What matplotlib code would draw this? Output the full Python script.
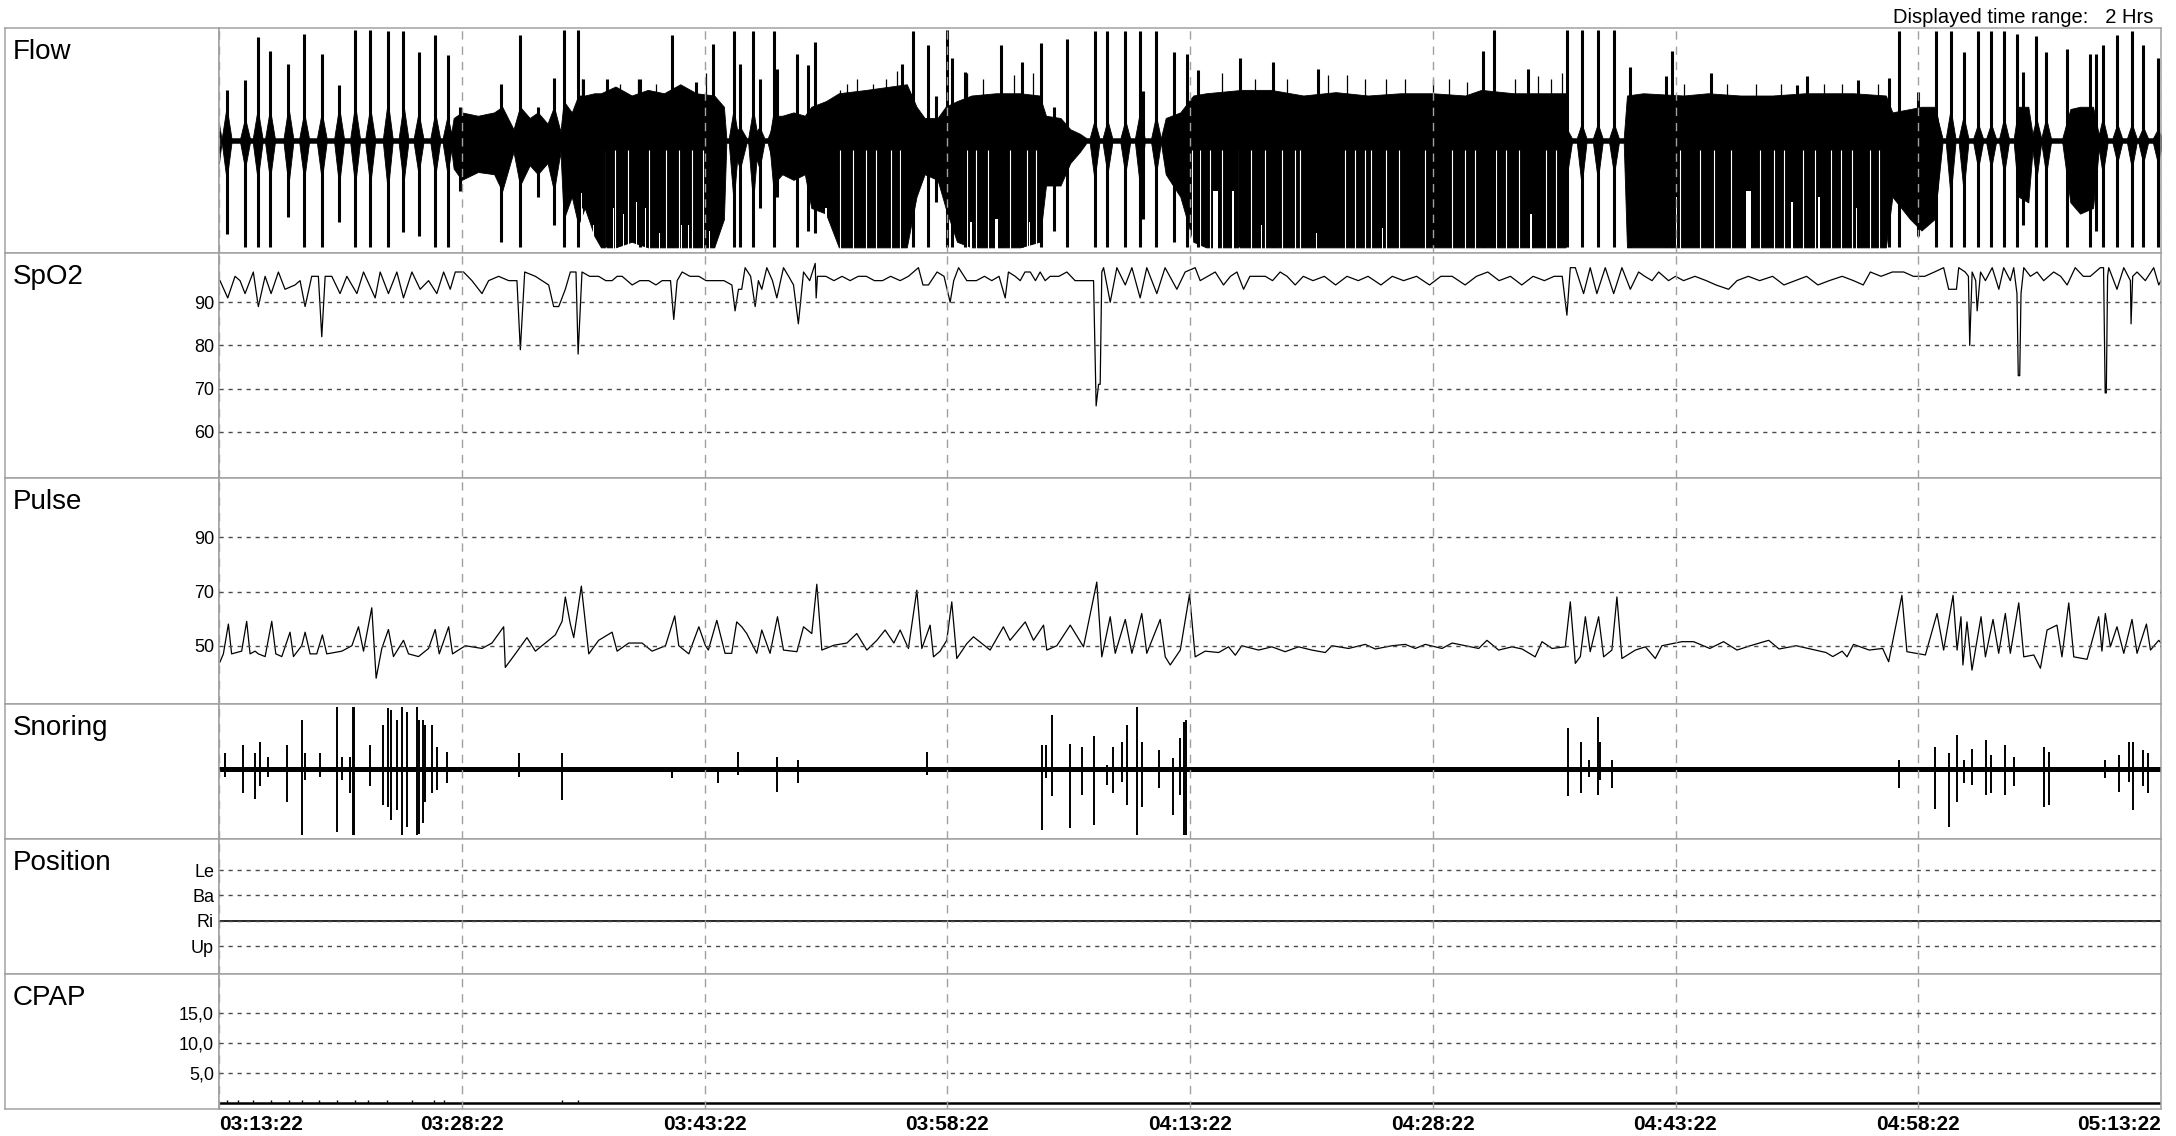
import numpy as np
import matplotlib.pyplot as plt

plt.rcParams['font.family'] = ['Liberation Sans', 'DejaVu Sans']

# time axis: minutes after 03:13:22, 2 hours shown
time_ticks = [0, 15, 30, 45, 60, 75, 90, 105, 120]
time_labels = ["03:13:22", "03:28:22", "03:43:22", "03:58:22", "04:13:22",
               "04:28:22", "04:43:22", "04:58:22", "05:13:22"]

# Flow: envelope of continuous breathing (t, upper, lower), normalised -1..1
flow_envelope = [
    (0.0, 0.15, -0.20), (0.15, 0.02, -0.02), (14.3, 0.02, -0.02), (14.5, 0.20, -0.25),
    (15.0, 0.25, -0.35), (16.0, 0.22, -0.28), (17.0, 0.25, -0.30), (17.5, 0.30, -0.45),
    (18.2, 0.10, -0.10), (18.6, 0.30, -0.40), (19.2, 0.20, -0.22), (19.7, 0.25, -0.30),
    (20.3, 0.15, -0.20), (20.7, 0.30, -0.45), (21.1, 0.08, -0.10), (21.3, 0.35, -0.70),
    (21.8, 0.25, -0.50), (22.2, 0.40, -0.75), (22.6, 0.40, -0.60), (23.2, 0.42, -0.85),
    (23.6, 0.42, -0.95), (24.5, 0.48, -0.95), (25.5, 0.40, -0.90), (26.5, 0.45, -0.95),
    (27.5, 0.42, -0.95), (28.5, 0.50, -0.95), (29.5, 0.42, -0.95), (30.6, 0.40, -0.95),
    (31.2, 0.30, -0.70), (31.35, 0.02, -0.02), (31.6, 0.02, -0.02), (32.2, 0.12, -0.25),
    (32.6, 0.02, -0.02), (32.9, 0.02, -0.02), (33.4, 0.12, -0.25), (33.7, 0.02, -0.02),
    (33.9, 0.02, -0.02), (34.5, 0.22, -0.35), (34.8, 0.22, -0.30), (35.5, 0.25, -0.35),
    (36.2, 0.22, -0.30), (36.6, 0.30, -0.60), (37.5, 0.35, -0.65), (38.3, 0.42, -0.95),
    (40.0, 0.45, -0.95), (41.5, 0.48, -0.95), (42.5, 0.50, -0.95), (43.1, 0.30, -0.50),
    (43.6, 0.20, -0.30), (44.4, 0.20, -0.35), (44.9, 0.30, -0.60), (45.6, 0.35, -0.90),
    (46.5, 0.40, -0.95), (48.0, 0.42, -0.95), (49.5, 0.42, -0.95), (50.7, 0.40, -0.90),
    (51.1, 0.22, -0.40), (52.0, 0.20, -0.40), (52.6, 0.10, -0.20), (53.2, 0.06, -0.10),
    (53.6, 0.02, -0.02), (58.2, 0.02, -0.02), (58.5, 0.20, -0.30), (59.4, 0.25, -0.50),
    (60.2, 0.40, -0.90), (61.0, 0.42, -0.95), (63.2, 0.45, -0.95), (65.0, 0.45, -0.95),
    (67.0, 0.40, -0.95), (69.0, 0.43, -0.95), (71.0, 0.40, -0.95), (73.0, 0.42, -0.95),
    (75.0, 0.42, -0.95), (77.0, 0.40, -0.95), (78.0, 0.45, -0.95), (80.0, 0.42, -0.95),
    (83.2, 0.42, -0.95), (83.35, 0.02, -0.02), (86.8, 0.02, -0.02), (87.0, 0.40, -0.95),
    (88.0, 0.42, -0.95), (90.5, 0.40, -0.95), (92.0, 0.42, -0.95), (94.0, 0.40, -0.95),
    (96.0, 0.40, -0.95), (98.0, 0.42, -0.95), (101.0, 0.42, -0.95), (103.0, 0.40, -0.95),
    (103.4, 0.25, -0.50), (104.5, 0.28, -0.70), (105.2, 0.30, -0.80), (106.0, 0.30, -0.70),
    (106.5, 0.02, -0.02), (110.9, 0.02, -0.02), (111.2, 0.30, -0.50), (111.8, 0.30, -0.55),
    (112.1, 0.02, -0.02), (113.9, 0.02, -0.02), (114.4, 0.28, -0.55), (115.0, 0.30, -0.65),
    (115.8, 0.30, -0.60), (116.2, 0.02, -0.02), (120.0, 0.02, -0.02),
]

# Flow: single large breaths (t, top, bottom, body top, body bottom)
flow_bursts = [
    (0.47, 0.45, -0.83, 0.30, -0.35), (1.61, 0.54, -0.95, 0.20, -0.25),
    (2.39, 0.92, -0.95, 0.28, -0.35), (3.15, 0.80, -0.95, 0.28, -0.35),
    (4.29, 0.68, -0.68, 0.30, -0.40), (5.26, 0.95, -0.95, 0.25, -0.35),
    (6.35, 0.77, -0.95, 0.25, -0.35), (7.42, 0.49, -0.72, 0.30, -0.40),
    (8.41, 0.98, -0.95, 0.32, -0.40), (9.34, 0.98, -0.95, 0.30, -0.40),
    (10.43, 0.97, -0.95, 0.35, -0.45), (11.40, 0.97, -0.81, 0.32, -0.38),
    (12.33, 0.79, -0.85, 0.25, -0.30), (13.36, 0.94, -0.95, 0.25, -0.32),
    (14.12, 0.76, -0.95, 0.22, -0.30), (14.9, 0.30, -0.45, 0, 0),
    (17.4, 0.50, -0.90, 0, 0), (18.6, 0.94, -0.95, 0, 0), (19.7, 0.30, -0.50, 0, 0),
    (20.7, 0.56, -0.75, 0, 0), (21.3, 0.98, -0.95, 0, 0), (22.2, 0.98, -0.95, 0, 0),
    (22.5, 0.55, -0.60, 0, 0), (24.0, 0.55, -0.95, 0, 0), (26.0, 0.55, -0.95, 0, 0),
    (28.0, 0.94, -0.95, 0, 0), (29.5, 0.52, -0.95, 0, 0), (30.55, 0.86, -0.95, 0, 0),
    (31.8, 0.97, -0.95, 0.28, -0.55), (32.2, 0.68, -0.95, 0, 0),
    (33.0, 0.97, -0.95, 0.28, -0.55), (33.4, 0.55, -0.60, 0, 0),
    (34.3, 0.97, -0.95, 0.28, -0.50), (34.5, 0.64, -0.50, 0, 0),
    (35.7, 0.77, -0.95, 0, 0), (36.4, 0.67, -0.80, 0, 0), (36.8, 0.88, -0.82, 0, 0),
    (42.2, 0.68, -0.95, 0, 0), (42.9, 0.97, -0.95, 0, 0), (43.8, 0.85, -0.95, 0, 0),
    (44.3, 0.40, -0.55, 0, 0), (45.0, 0.98, -0.95, 0, 0), (45.3, 0.73, -0.95, 0, 0),
    (46.1, 0.61, -0.95, 0, 0), (48.3, 0.85, -0.95, 0, 0), (49.6, 0.70, -0.95, 0, 0),
    (50.8, 0.87, -0.95, 0, 0), (51.6, 0.30, -0.80, 0, 0),
    (52.4, 0.90, -0.95, 0.15, -0.30), (54.1, 0.97, -0.95, 0.18, -0.35),
    (54.9, 0.97, -0.95, 0.18, -0.30), (56.0, 0.97, -0.95, 0.18, -0.30),
    (56.9, 0.97, -0.95, 0.25, -0.40), (57.1, 0.44, -0.70, 0, 0),
    (57.9, 0.97, -0.95, 0.22, -0.30), (59.0, 0.79, -0.90, 0, 0),
    (59.8, 0.77, -0.95, 0, 0), (60.5, 0.63, -0.95, 0, 0), (63.1, 0.73, -0.95, 0, 0),
    (65.1, 0.70, -0.95, 0, 0), (67.9, 0.64, -0.95, 0, 0), (78.1, 0.80, -0.95, 0, 0),
    (78.8, 0.98, -0.95, 0, 0), (80.9, 0.64, -0.95, 0, 0),
    (83.3, 0.98, -0.95, 0.10, -0.30), (84.2, 0.98, -0.95, 0.15, -0.40),
    (85.2, 0.98, -0.95, 0.15, -0.35), (86.2, 0.98, -0.95, 0.15, -0.30),
    (87.2, 0.65, -0.95, 0, 0), (89.4, 0.57, -0.95, 0, 0), (89.8, 0.80, -0.95, 0, 0),
    (92.2, 0.60, -0.95, 0, 0), (97.5, 0.49, -0.95, 0, 0), (98.1, 0.57, -0.95, 0, 0),
    (101.3, 0.54, -0.95, 0, 0), (103.2, 0.56, -0.95, 0, 0), (103.8, 0.97, -0.95, 0, 0),
    (105.0, 0.43, -0.85, 0, 0), (106.1, 0.97, -0.95, 0.28, -0.60),
    (107.0, 0.97, -0.95, 0.28, -0.50), (107.8, 0.79, -0.95, 0.22, -0.45),
    (108.7, 0.97, -0.95, 0.15, -0.25), (109.5, 0.97, -0.95, 0.15, -0.25),
    (110.3, 0.97, -0.95, 0.20, -0.30), (111.1, 0.95, -0.95, 0, 0),
    (111.5, 0.61, -0.75, 0, 0), (112.3, 0.93, -0.95, 0.20, -0.35),
    (112.9, 0.79, -0.95, 0.20, -0.30), (114.2, 0.81, -0.95, 0, 0),
    (115.6, 0.77, -0.95, 0, 0), (116.0, 0.77, -0.80, 0, 0),
    (116.4, 0.85, -0.95, 0.20, -0.30), (117.3, 0.94, -0.95, 0.15, -0.20),
    (118.2, 0.97, -0.95, 0.15, -0.25), (118.9, 0.85, -0.95, 0.12, -0.20),
    (119.8, 0.73, -0.95, 0.10, -0.20),
]

# Flow: thin inspiratory peaks above the dense stretches (t, top)
flow_needles = [
    (22.4, 0.55), (24.8, 0.50), (25.9, 0.55), (27.0, 0.50), (30.1, 0.60), (38.4, 0.45),
    (38.8, 0.50), (39.4, 0.55), (40.4, 0.50), (41.2, 0.55), (41.9, 0.62), (46.2, 0.60),
    (47.2, 0.55), (49.1, 0.58), (50.3, 0.60), (62.0, 0.60), (64.0, 0.55), (66.0, 0.55),
    (68.5, 0.58), (69.7, 0.58), (70.8, 0.55), (72.1, 0.55), (73.3, 0.55), (75.0, 0.55),
    (76.0, 0.55), (77.1, 0.52), (80.1, 0.55), (81.5, 0.57), (82.3, 0.55), (83.0, 0.60),
    (90.5, 0.50), (93.2, 0.50), (95.0, 0.50), (96.5, 0.50), (99.2, 0.50), (100.3, 0.50),
    (102.5, 0.50),
]

# Flow: places where expiration stays shallow (t0, t1, lowest value reached)
flow_gaps = [
    (22.38, 22.47, -0.47), (23.08, 23.17, -0.75), (24.36, 24.43, -0.60), (24.96, 25.03, -0.65),
    (25.76, 25.83, -0.55), (26.31, 26.38, -0.60), (27.16, 27.23, -0.82), (28.56, 28.63, -0.75),
    (28.96, 29.03, -0.75), (30.26, 30.33, -0.80), (36.75, 36.95, -0.62), (37.45, 37.55, -0.60),
    (46.38, 46.52, -0.72), (47.98, 48.12, -0.70), (50.06, 50.13, -0.72), (61.45, 61.7, -0.45),
    (62.58, 62.72, -0.45), (64.36, 64.43, -0.75), (67.76, 67.83, -0.82), (71.86, 71.93, -0.78),
    (81.03, 81.12, -0.65), (90.0, 90.12, -0.50), (94.35, 94.65, -0.45), (97.15, 97.25, -0.55),
    (98.8, 98.9, -0.50), (101.14, 101.22, -0.60),
]

# Flow: thin pale streaks between expirations in the dense stretches (t)
flow_streaks = [
    23.9, 24.5, 25.3, 26.6, 27.6, 28.4, 29.2, 29.9, 38.4, 39.2, 40.0, 40.6, 41.5, 42.1,
    46.2, 46.8, 47.5, 48.9, 49.9, 50.5, 60.1, 60.6, 61.25, 62.0, 63.0, 63.8, 64.65, 65.7,
    66.5, 66.8, 69.6, 70.2, 70.8, 71.2, 72.1, 72.9, 74.5, 76.2, 77.0, 77.6, 78.9, 79.5,
    80.3, 82.0, 82.6, 90.3, 91.5, 92.4, 93.4, 95.2, 96.1, 96.7, 97.9, 98.6, 99.6, 100.2,
    100.9, 102.0, 102.6,
]

# SpO2 (%) : (t, value)
spo2_trace = [
    (0.06, 95), (0.54, 91), (0.99, 96), (1.30, 95), (1.61, 92), (2.12, 97), (2.43, 89),
    (2.85, 96), (3.22, 92), (3.67, 97), (4.08, 93), (4.70, 94), (5.01, 95), (5.32, 89),
    (5.73, 96), (6.14, 96), (6.35, 82), (6.56, 96), (6.97, 96), (7.48, 92), (7.90, 96),
    (8.52, 92), (8.93, 97), (9.65, 91), (9.96, 97), (10.47, 92), (10.99, 97), (11.40, 91),
    (11.92, 97), (12.43, 93), (12.95, 95), (13.46, 92), (13.88, 97), (14.29, 93), (14.60, 97),
    (15.11, 97), (15.63, 95), (16.25, 92), (16.66, 95), (17.28, 96), (17.90, 95), (18.41, 95),
    (18.62, 79), (18.89, 97), (19.55, 96), (20.37, 94), (20.68, 89), (20.99, 89), (21.40, 93),
    (21.71, 97), (22.06, 97), (22.19, 78), (22.43, 97), (22.9, 96), (23.46, 96), (23.9, 95),
    (24.29, 95), (24.6, 96), (24.91, 96), (25.53, 94), (26.0, 95), (26.56, 95), (27.0, 94),
    (27.38, 95), (27.90, 95), (28.10, 86), (28.31, 95), (28.62, 97), (29.1, 96), (29.65, 96),
    (30.1, 95), (30.47, 95), (30.76, 95), (31.20, 95), (31.69, 94), (31.89, 88), (32.10, 93),
    (32.30, 93), (32.51, 98), (32.85, 96), (33.13, 89), (33.33, 95), (33.54, 93), (33.85, 98),
    (34.20, 95), (34.47, 91), (34.88, 98), (35.20, 96), (35.50, 94), (35.80, 85), (36.12, 97),
    (36.50, 95), (36.84, 99), (36.90, 91), (36.98, 96), (37.5, 96), (38.0, 95), (38.5, 96),
    (39.0, 95), (39.5, 96), (40.0, 96), (40.5, 95), (41.0, 95), (41.5, 96), (42.09, 95),
    (42.6, 96), (43.22, 98), (43.5, 94), (43.84, 94), (44.37, 97), (44.8, 96), (45.18, 90),
    (45.40, 95), (45.70, 98), (46.21, 95), (46.8, 95), (47.3, 96), (47.75, 95), (48.2, 96),
    (48.58, 91), (48.78, 97), (49.2, 96), (49.51, 95), (49.8, 97), (50.13, 97), (50.45, 95),
    (50.74, 97), (51.05, 95), (51.36, 96), (51.9, 96), (52.39, 97), (52.9, 95), (53.42, 95),
    (54.04, 95), (54.20, 66), (54.35, 71), (54.45, 71), (54.55, 97), (54.66, 98), (55.07, 90),
    (55.48, 98), (56.0, 94), (56.41, 98), (56.92, 91), (57.33, 98), (57.95, 92), (58.46, 98),
    (59.19, 93), (59.7, 97), (60.32, 98), (60.63, 95), (61.10, 96), (61.56, 97), (62.07, 94),
    (62.50, 96), (62.90, 97), (63.31, 93), (63.7, 96), (64.65, 96), (65.1, 95), (65.57, 97),
    (66.0, 96), (66.5, 94), (67.0, 96), (67.6, 95), (68.3, 96), (69.0, 94), (69.7, 96),
    (70.4, 95), (71.0, 96), (71.8, 94), (72.5, 96), (73.2, 95), (74.0, 96), (74.8, 94),
    (75.5, 96), (76.2, 96), (77.0, 94), (77.7, 96), (78.4, 97), (79.1, 95), (79.8, 96),
    (80.5, 94), (81.2, 96), (81.9, 95), (82.5, 96), (83.0, 96), (83.29, 87), (83.50, 98),
    (83.81, 98), (84.32, 92), (84.73, 98), (85.14, 92), (85.66, 98), (86.18, 92), (86.69, 98),
    (87.21, 93), (87.72, 97), (88.1, 96), (88.55, 95), (88.96, 97), (89.57, 95), (90.0, 96),
    (90.5, 95), (91.2, 96), (91.9, 95), (92.5, 94), (93.28, 93), (93.8, 95), (94.5, 96),
    (95.2, 95), (96.0, 96), (96.7, 94), (97.4, 95), (98.1, 96), (98.8, 94), (99.5, 95),
    (100.3, 96), (101.0, 95), (101.6, 94), (102.04, 97), (102.7, 96), (103.4, 97), (104.1, 97),
    (104.7, 96), (105.4, 96), (106.0, 97), (106.57, 98), (106.88, 93), (107.36, 93), (107.50, 98),
    (107.90, 97), (108.10, 96), (108.18, 80), (108.33, 97), (108.55, 95), (108.64, 88),
    (108.85, 97), (109.15, 95), (109.57, 98), (109.98, 93), (110.28, 98), (110.69, 95),
    (110.90, 98), (111.10, 92), (111.18, 73), (111.27, 73), (111.35, 92), (111.52, 98),
    (111.93, 96), (112.34, 97), (112.75, 95), (113.37, 97), (113.8, 96), (114.20, 94),
    (114.70, 98), (115.2, 96), (115.63, 96), (116.25, 98), (116.45, 98), (116.55, 69),
    (116.62, 69), (116.70, 96), (116.77, 98), (117.28, 93), (117.70, 98), (118.11, 95),
    (118.15, 85), (118.25, 96), (118.52, 97), (119.03, 95), (119.55, 98), (119.86, 94),
    (120.0, 95),
]

# Pulse (bpm) : (t, value)
pulse_trace = [
    (0.06, 44), (0.27, 47), (0.58, 58), (0.78, 47), (1.40, 48), (1.71, 59), (1.92, 47),
    (2.23, 48), (2.43, 47), (2.85, 46), (3.26, 59), (3.51, 47), (3.88, 46), (4.39, 55),
    (4.60, 46), (5.11, 50), (5.32, 55), (5.63, 47), (6.04, 47), (6.39, 54), (6.66, 47),
    (7.59, 48), (8.21, 50), (8.62, 57), (8.93, 48), (9.44, 64), (9.71, 38), (10.06, 49),
    (10.47, 56), (10.78, 46), (11.40, 52), (11.71, 47), (12.33, 46), (12.95, 49), (13.36, 56),
    (13.61, 47), (14.19, 57), (14.43, 47), (15.22, 50), (16.25, 49), (16.87, 51), (17.59, 57),
    (17.69, 42), (18.31, 47), (19.03, 53), (19.55, 48), (20.16, 51), (20.78, 54), (21.2, 59),
    (21.4, 68), (21.71, 58), (21.92, 53), (22.39, 72), (22.85, 47), (23.46, 52), (24.29, 55),
    (24.6, 48), (25.32, 51), (26.14, 51), (26.76, 48), (27.59, 50), (28.16, 61), (28.41, 50),
    (29.03, 47), (29.65, 57), (30.06, 50), (30.24, 48.4), (30.76, 59.4), (31.27, 47.2),
    (31.68, 47.2), (31.99, 58.8), (32.30, 57), (32.61, 54.5), (33.23, 47.2), (33.54, 55.8),
    (34.05, 47.2), (34.51, 60.7), (34.88, 48.4), (35.71, 47.8), (36.12, 57), (36.63, 54.5),
    (36.94, 72.7), (37.25, 48.4), (38.0, 50.2), (38.8, 51), (39.41, 54.5), (40.03, 48.4),
    (40.65, 52), (41.16, 55.8), (41.7, 51), (42.09, 55.8), (42.6, 49), (43.12, 70.5),
    (43.43, 49), (43.94, 57.6), (44.15, 45.9), (44.56, 48), (44.97, 52), (45.28, 66.2),
    (45.59, 45.3), (46.21, 50.8), (46.62, 53.3), (47.65, 48.4), (48.47, 57), (48.88, 52),
    (49.82, 58.8), (50.33, 52), (50.95, 57.6), (51.15, 48.4), (51.77, 50), (52.6, 57.6),
    (53.42, 49.6), (54.24, 73.5), (54.55, 45.9), (55.07, 60.7), (55.38, 47.2), (56.0, 59.7),
    (56.41, 47.2), (57.02, 61.9), (57.33, 47.2), (58.16, 59.7), (58.47, 45.9), (58.78, 42.9),
    (59.4, 48.4), (59.97, 69), (60.32, 45.9), (60.94, 48), (61.77, 47.5), (62.38, 49.6),
    (62.8, 46.5), (63.2, 50), (64.24, 48.4), (65.06, 49.6), (65.88, 47.8), (66.71, 49.6),
    (67.53, 48.4), (68.36, 47.5), (68.77, 50), (69.8, 49), (70.83, 50.5), (71.45, 48.8),
    (72.48, 50), (73.3, 50.5), (73.92, 49), (74.54, 50.5), (75.57, 49), (76.2, 51),
    (77.02, 50), (77.84, 49), (78.35, 52), (79.07, 48.4), (79.9, 49.6), (80.52, 48.8),
    (81.33, 45.9), (81.75, 51.5), (82.37, 49), (83.19, 49.6), (83.5, 66.2), (83.81, 43.5),
    (84.12, 46), (84.43, 60.7), (84.73, 47.8), (85.25, 60.7), (85.56, 45.9), (86.07, 48.4),
    (86.38, 68), (86.69, 45.3), (87.52, 48.4), (88.14, 49.6), (88.75, 45.3), (89.16, 50),
    (90.4, 51.5), (91.12, 51.5), (92.12, 49), (92.97, 51.5), (93.8, 48.4), (94.62, 50),
    (95.76, 52), (96.4, 48.8), (97.46, 50), (98.2, 49), (99.3, 47.5), (99.72, 46),
    (100.3, 48), (100.6, 45.9), (101.0, 50.5), (101.97, 48.4), (102.8, 49), (103.17, 44.1),
    (103.99, 68.6), (104.3, 47.8), (105.44, 46.6), (106.16, 61.9), (106.57, 48.4),
    (107.15, 68.6), (107.4, 48.4), (107.64, 60.7), (107.76, 42.9), (108.01, 58.8),
    (108.32, 41), (108.88, 60.7), (109.15, 45.9), (109.62, 59.7), (109.97, 47.2),
    (110.38, 61.9), (110.69, 47.2), (111.21, 65.8), (111.52, 45.9), (112.14, 46.6),
    (112.55, 41.7), (112.96, 55.8), (113.57, 57.6), (113.88, 45.9), (114.3, 65.8),
    (114.61, 45.9), (115.43, 45), (116.15, 60.7), (116.35, 48), (116.56, 61.9), (116.87, 49.6),
    (117.28, 57), (117.7, 47.2), (118.21, 59.7), (118.52, 47.2), (119.1, 58), (119.35, 48.4),
    (119.86, 52), (120.0, 51),
]

# Snoring: baseline band and single events (t, top, bottom), normalised -1..1
snore_band = (-0.01, 0.06)
snore_spikes = [
    (0.37, 0.27, -0.08), (1.46, 0.39, -0.32), (2.23, 0.27, -0.40), (2.54, 0.44, -0.22),
    (3.05, 0.22, -0.08), (4.19, 0.39, -0.45), (5.15, 0.76, -0.94), (5.32, 0.27, -0.13),
    (6.25, 0.27, -0.08), (7.28, 0.96, -0.89), (7.59, 0.22, -0.13), (8.10, 0.22, -0.32),
    (8.25, 0.96, -0.94), (8.37, 0.96, -0.94), (9.34, 0.39, -0.22), (10.16, 0.69, -0.50),
    (10.47, 0.94, -0.52), (10.64, 0.91, -0.72), (10.99, 0.76, -0.57), (11.30, 0.96, -0.94),
    (11.61, 0.88, -0.82), (12.23, 0.96, -0.94), (12.37, 0.76, -0.92), (12.58, 0.76, -0.77),
    (12.74, 0.69, -0.45), (13.15, 0.69, -0.32), (13.46, 0.37, -0.27), (14.08, 0.29, -0.17),
    (18.52, 0.27, -0.08), (21.20, 0.27, -0.42), (28.00, 0.07, -0.10), (30.86, 0.05, -0.17),
    (32.10, 0.29, -0.05), (34.47, 0.22, -0.30), (35.80, 0.17, -0.17), (43.74, 0.29, -0.05),
    (50.85, 0.39, -0.86), (51.10, 0.39, -0.10), (51.46, 0.83, -0.37), (52.60, 0.41, -0.84),
    (53.32, 0.37, -0.35), (54.04, 0.52, -0.79), (54.86, 0.10, -0.20), (55.27, 0.37, -0.32),
    (55.79, 0.44, -0.15), (56.10, 0.69, -0.50), (56.72, 0.96, -0.94), (57.03, 0.44, -0.52),
    (58.06, 0.32, -0.25), (58.98, 0.20, -0.64), (59.40, 0.49, -0.35), (59.60, 0.74, -0.94),
    (59.76, 0.76, -0.94), (83.35, 0.64, -0.37), (84.18, 0.44, -0.32), (84.63, 0.17, -0.08),
    (85.21, 0.81, -0.35), (85.35, 0.44, -0.13), (86.07, 0.17, -0.25), (103.79, 0.17, -0.25),
    (106.06, 0.37, -0.55), (106.90, 0.27, -0.82), (107.40, 0.54, -0.45), (107.80, 0.17, -0.17),
    (108.32, 0.33, -0.20), (109.21, 0.47, -0.35), (109.50, 0.25, -0.32), (110.38, 0.39, -0.35),
    (110.90, 0.22, -0.22), (112.79, 0.37, -0.52), (113.06, 0.29, -0.50), (116.56, 0.17, -0.10),
    (117.39, 0.25, -0.30), (118.01, 0.44, -0.15), (118.28, 0.44, -0.57), (118.89, 0.32, -0.22),
    (119.18, 0.27, -0.32),
]

# Position
position_levels = ["Up", "Ri", "Ba", "Le"]
position_t = [0, 120]
position_v = ["Ri", "Ri"]

# CPAP (cmH2O)
cpap_t = [0, 120]
cpap_v = [0.0, 0.0]
cpap_blips = [0.48, 1.2, 2.1, 3.2, 4.3, 5.1, 6.2, 7.3, 8.4, 9.2, 10.4, 11.9, 13.3, 13.9, 21.2, 22.2]

# ---------------------------------------------------------------- layout (pixels)
W, H = 2176, 1136
LEFT, COL, RIGHT = 5, 219, 2161
rows = [("Flow", 28, 253), ("SpO2", 253, 478), ("Pulse", 478, 704),
        ("Snoring", 704, 839), ("Position", 839, 974), ("CPAP", 974, 1109)]
BORDER = "#a0a0a0"
PX = 0.72        # points per pixel at dpi 100
BODY_W = 0.3     # half width (min) of the small breaths around a large one


def rect(x0, x1, top, bottom):
    return [x0 / W, 1 - bottom / H, (x1 - x0) / W, (bottom - top) / H]


fig = plt.figure(figsize=(W / 100, H / 100), dpi=100)
axes = {}
for name, top, bottom in rows:
    lab = fig.add_axes(rect(LEFT, COL, top, bottom))
    lab.set_xticks([])
    lab.set_yticks([])
    for s in lab.spines.values():
        s.set_color(BORDER)
        s.set_linewidth(1.5 * PX)
    lab.text(8 / (COL - LEFT), 1 - 31 / (bottom - top), name, transform=lab.transAxes,
             fontsize=20, va="baseline", ha="left")

    ax = fig.add_axes(rect(COL, RIGHT, top, bottom))
    for s in ax.spines.values():
        s.set_color(BORDER)
        s.set_linewidth(1.5 * PX)
    ax.set_xlim(0, 120)
    ax.set_xticks(time_ticks)
    ax.tick_params(axis="both", length=0)
    ax.tick_params(axis="y", pad=5 * PX, labelsize=13)
    ax.tick_params(axis="x", labelbottom=False)
    ax.set_axisbelow(False)
    ax.grid(axis="x", color=BORDER, linewidth=1.0, linestyle=(0, (6, 5)))
    axes[name] = ax

hgrid = dict(color="#4a4a4a", linewidth=1.0, linestyle=(0, (3, 3.5)))

# Flow
ax = axes["Flow"]
ft, fhi, flo = map(np.array, zip(*flow_envelope))
ax.fill_between(ft, flo, fhi, color="black", linewidth=0.6)
for t, top, bot, bhi, blo in flow_bursts:
    if bhi > 0:
        ax.fill_between([t - BODY_W, t, t + BODY_W], [-0.02, blo, -0.02], [0.02, bhi, 0.02],
                        color="black", linewidth=0.6)
for t0, t1, g in flow_gaps:
    ax.fill_between([t0, t1], -1, g, color="white", linewidth=0, zorder=1.5)
ax.vlines(flow_streaks, -1, -0.08, color="white", linewidth=0.8, zorder=1.5)
bt, btop, bbot = [np.array(c) for c in list(zip(*flow_bursts))[:3]]
ax.vlines(bt, bbot, btop, color="black", linewidth=2.2, zorder=2)
nt, ntop = zip(*flow_needles)
ax.vlines(nt, 0, ntop, color="black", linewidth=0.9, zorder=2)
ax.set_ylim(-1, 1)
ax.set_yticks([])

# SpO2
ax = axes["SpO2"]
t, v = zip(*spo2_trace)
ax.plot(t, v, color="black", linewidth=0.9)
ax.set_ylim(49.3, 101.4)
ax.set_yticks([60, 70, 80, 90])
ax.grid(axis="y", **hgrid)

# Pulse
ax = axes["Pulse"]
t, v = zip(*pulse_trace)
ax.plot(t, v, color="black", linewidth=0.9)
ax.set_ylim(28.5, 111.9)
ax.set_yticks([50, 70, 90])
ax.grid(axis="y", **hgrid)

# Snoring
ax = axes["Snoring"]
ax.fill_between([0, 120], snore_band[0], snore_band[1], color="black", linewidth=0)
st, shi, slo = map(np.array, zip(*snore_spikes))
ax.vlines(st, slo, shi, color="black", linewidth=1.4)
ax.set_ylim(-1, 1)
ax.set_yticks([])

# Position
ax = axes["Position"]
ax.plot(position_t, [position_levels.index(p) for p in position_v], color="black", linewidth=1.2)
ax.set_ylim(-1.1, 4.23)
ax.set_yticks(range(len(position_levels)))
ax.set_yticklabels(position_levels)
ax.grid(axis="y", **hgrid)

# CPAP
ax = axes["CPAP"]
ax.plot(cpap_t, cpap_v, color="black", linewidth=1.8)
ax.vlines(cpap_blips, 0, 0.5, color="black", linewidth=1.0)
ax.set_ylim(-0.95, 21.55)
ax.set_yticks([5, 10, 15])
ax.set_yticklabels(["5,0", "10,0", "15,0"])
ax.grid(axis="y", **hgrid)
ax.tick_params(axis="x", labelbottom=True, pad=6 * PX, labelsize=15)
ax.set_xticklabels(time_labels, fontweight="bold")
xl = ax.get_xticklabels()
xl[0].set_ha("left")
xl[-1].set_ha("right")

fig.text(2153 / W, 1 - 22.7 / H, "Displayed time range:   2 Hrs", ha="right", va="baseline",
         fontsize=14.5)

fig.savefig("out.png", dpi=100)
